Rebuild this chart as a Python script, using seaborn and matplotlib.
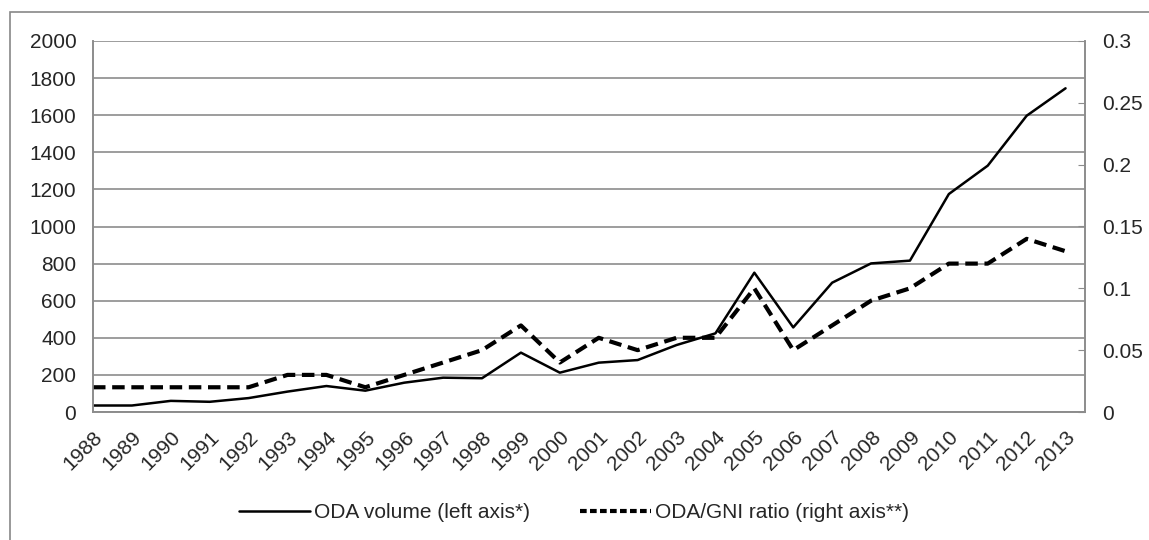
import pandas as pd
import matplotlib
matplotlib.use("Agg")
import matplotlib.pyplot as plt
import seaborn as sns
from matplotlib.lines import Line2D
from matplotlib.patches import Rectangle

# Data
years = list(range(1988, 2014))
oda_volume = [35, 35, 60, 55, 75, 110, 140, 115, 158, 185, 182, 320, 212, 266, 280,
              361, 424, 751, 456, 697, 801, 816, 1175, 1328, 1597, 1745]
oda_gni = [0.02, 0.02, 0.02, 0.02, 0.02, 0.03, 0.03, 0.02, 0.03, 0.04, 0.05, 0.07, 0.04,
           0.06, 0.05, 0.06, 0.06, 0.10, 0.05, 0.07, 0.09, 0.10, 0.12, 0.12, 0.14, 0.13]

df = pd.DataFrame({"Year": years, "Volume": oda_volume, "Ratio": oda_gni})

sns.set_style("white")
plt.rcParams["font.family"] = ["Liberation Sans", "DejaVu Sans"]
plt.rcParams["font.size"] = 15

fig = plt.figure(figsize=(11.49, 5.4), dpi=100)
ax = fig.add_axes([93 / 1149, 1 - 412 / 540, (1085 - 93) / 1149, (412 - 41) / 540])

# outer chart frame (top and left visible)
fig.patches.append(Rectangle((10 / 1149, -0.1), 1.2, 1 - 12 / 540 + 0.1,
                             transform=fig.transFigure, fill=False,
                             edgecolor="#888888", linewidth=1.2))

grid_c = "#8c8c8c"
for v in range(0, 2001, 200):
    ax.axhline(v, color=grid_c, linewidth=1.2, zorder=0)

sns.lineplot(data=df, x="Year", y="Volume", ax=ax, color="black", linewidth=1.8)
ax.set_xlim(1988, 2013.5)
ax.set_ylim(0, 2000)
ax.set_yticks(range(0, 2001, 200))
ax.set_xticks(years)
ax.set_xticklabels([str(y) for y in years], rotation=45, ha="right",
                   rotation_mode="anchor")
ax.tick_params(axis="y", length=0, pad=12)
ax.tick_params(axis="x", direction="in", length=5, color=grid_c, pad=11)
ax.set_xlabel("")
ax.set_ylabel("")

ax2 = ax.twinx()
sns.lineplot(data=df, x="Year", y="Ratio", ax=ax2, color="black", linewidth=3,
             dashes=False)
ax2.lines[0].set_dashes([3, 1.6])
ax2.set_ylim(0, 0.3)
ax2.set_yticks([0, 0.05, 0.1, 0.15, 0.2, 0.25, 0.3])
ax2.set_yticklabels(["0", "0.05", "0.1", "0.15", "0.2", "0.25", "0.3"])
ax2.tick_params(axis="y", direction="in", length=5, color=grid_c, pad=12)
ax2.set_ylabel("")

for a in (ax, ax2):
    for name, sp in a.spines.items():
        sp.set_color(grid_c)
        sp.set_linewidth(1.2)
    a.spines["top"].set_visible(False)

handles = [Line2D([], [], color="black", linewidth=1.8),
           Line2D([], [], color="black", linewidth=3, dashes=[1.6, 0.8])]
fig.legend(handles, ["ODA volume (left axis*)", "ODA/GNI ratio (right axis**)"],
           loc="center", bbox_to_anchor=(0.5, 1 - 513 / 540), ncol=2, frameon=False,
           handlelength=3.4, handletextpad=0.2, columnspacing=2.4)

fig.savefig("out.png", dpi=100)
